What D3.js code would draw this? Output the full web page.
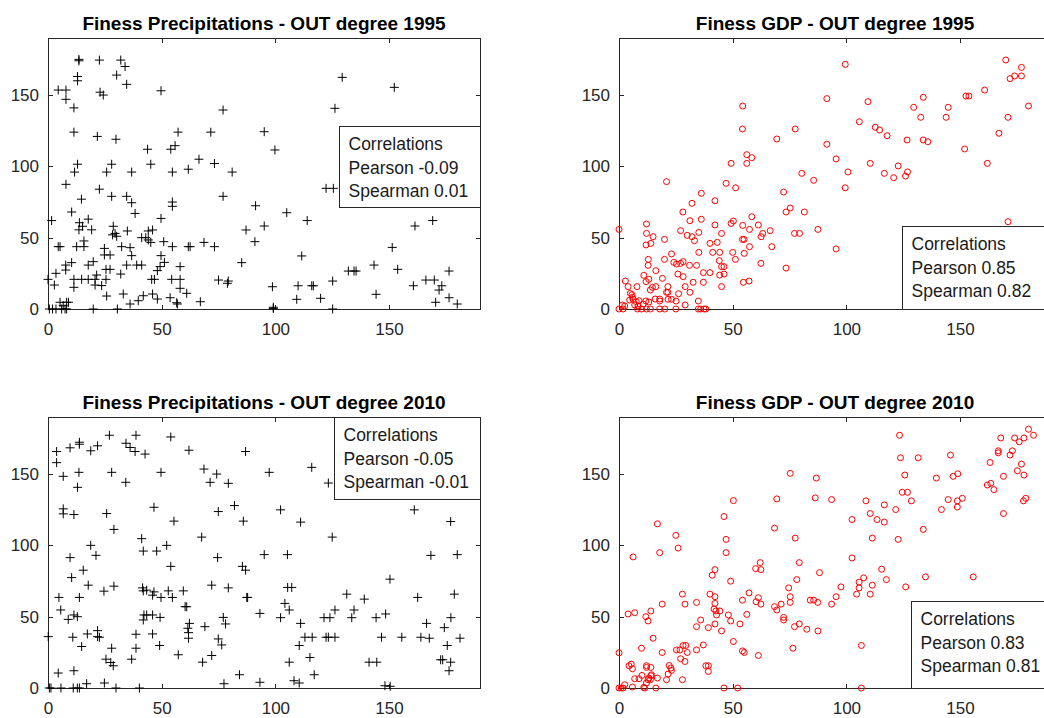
<!DOCTYPE html>
<html>
<head>
<meta charset="utf-8">
<script src="https://cdn.jsdelivr.net/npm/d3@7"></script>
<style>
  body { margin: 0; background: #fff; overflow: hidden; }
  text { font-family: "Liberation Sans", Arial, Helvetica, sans-serif; }
</style>
</head>
<body>
<div id="my_dataviz"></div>
<script>
// Tick values and axis range (both axes go 0..190)
var xTicks = [0, 50, 100, 150];
var yTicks = [0, 50, 100, 150];
var axisMax = 190;

// Titles of the four panels
var titles = [
  "Finess Precipitations - OUT degree 1995",
  "Finess GDP - OUT degree 1995",
  "Finess Precipitations - OUT degree 2010",
  "Finess GDP - OUT degree 2010"
];

// Text of the correlation boxes
var corrPrecip1995 = ["Correlations", "Pearson -0.09", "Spearman 0.01"];
var corrGdp1995 = ["Correlations", "Pearson 0.85", "Spearman 0.82"];
var corrPrecip2010 = ["Correlations", "Pearson -0.05", "Spearman -0.01"];
var corrGdp2010 = ["Correlations", "Pearson 0.83", "Spearman 0.81"];

// Points [x, y]
var precip1995 = [[13.6,175],[13.6,174],[22.6,174.5],[32,174.5],[33.9,170],[30.2,164],[13,163],[13,160],[34.6,157.5],[4.5,153.5],[7.9,153.5],[7.9,147],[22.9,152],[24.3,150],[49.7,153],[11.4,141],[77,139.5],[11.4,124],[21.7,121],[29.9,119],[57.2,124],[71.6,124],[43.8,112],[54,112],[55.9,114.5],[13,101.5],[11.7,96],[28,101.5],[25.8,96],[36.8,96],[45.2,101.5],[54.7,96],[61.7,98],[66.4,105],[73.2,102],[81,96],[7.9,87.4],[22.6,84],[28,79],[34.6,79],[36.8,74.5],[54.7,75],[54.7,72],[77,79],[14.7,77],[91.3,72.4],[38.3,67],[10.4,68],[1.6,62],[13.8,60.5],[17.7,63],[15.2,58],[13.6,55.5],[19.2,55.5],[28.7,58],[29.5,53],[28.4,52],[30.2,51],[34.9,54.7],[44.1,54.7],[46,55.4],[49.7,63.5],[87.1,55.4],[5.3,43.7],[4.5,43.7],[12.6,43.7],[15.8,43.7],[15.8,47.7],[41.2,50],[43,50],[44.1,48.4],[45.2,46.7],[50.9,47.2],[54.7,43.7],[61.7,43.7],[62.5,43.7],[68.6,46.7],[73.2,43.7],[91,47.2],[24.8,42.5],[24.8,37.9],[27.3,37.9],[32.4,43.7],[36.1,43],[36.8,37.4],[49.7,37.4],[7.8,30.8],[10.4,32.5],[7.8,27.3],[17.7,30.8],[19.9,33.2],[25.5,27.8],[27.3,27.8],[34.6,30.8],[39,30.8],[41.2,30.8],[49.3,29.7],[51.2,32.7],[58.1,29.7],[85.2,32.5],[48.1,26.9],[32,24.5],[0,20.8],[2.8,16.8],[3.5,25],[11.4,20.8],[11.4,15.2],[14.8,20.8],[17.7,20.8],[20.7,20.8],[21.4,23.8],[20.7,16.8],[23.6,16.4],[25.5,20.8],[45.6,20.8],[46.8,20.8],[54.4,20.8],[58.1,20.8],[75,20.3],[79.3,19.6],[78.9,18],[58.1,14.5],[61,11],[25.8,9.1],[33.1,10.5],[41.9,9.3],[46,10.5],[48.1,7],[39.7,5.8],[36.1,3.5],[53.7,7.9],[56.6,4.4],[56.9,3.5],[67,5.1],[5.3,4.7],[8.2,4.7],[9,4.7],[6.7,2.3],[0.6,0],[2,0],[3.5,0],[6,0],[7.5,0],[8.2,0],[19.9,0],[30.5,0],
  [129.4,162.4],[152.3,155.4],[126.2,140.7],[95.1,124.3],[99.8,111.5],[122.3,84.6],[125.5,84.6],[105,67.5],[114,62],[95.1,58.2],[111.6,37.2],[98.7,15.6],[110,16.3],[116,16.3],[116.7,16.3],[125.2,19.6],[109.4,6.8],[119.9,7.5],[99.1,1.2],[99.1,0.3],[125.2,0],[132.1,26.6],[134.6,26.6],[135.5,26.6],[143.4,30.8],[153.8,27.8],[144.3,10.3],[151.4,43.2],[161.4,58.2],[169.2,62],[160.7,16.3],[166.2,20.3],[169.9,20.3],[173.2,16.3],[172,13.3],[176.4,26.6],[170.5,4.7],[176.4,7.9],[180,3.5]];

var gdp1995 = [[0,55.8],[54.4,142.3],[54.3,126.2],[56.2,108.2],[56.2,102.1],[58.4,106.1],[49.3,102.1],[69.4,119.2],[77.5,126.2],[20.9,89.3],[47.1,88.1],[51.3,85],[85.6,90.2],[80.4,95.1],[36.2,81.1],[32.1,74.1],[42.2,75.9],[72.4,82],[75.3,70.8],[73.5,68],[81.5,68],[28.1,68],[31.2,61.9],[36.2,62.9],[49.3,60],[50.3,61.7],[54.4,58.6],[42.2,58.9],[58.4,64.7],[61.3,58.9],[57.4,55.8],[63.2,53],[62.5,50.7],[66.5,54.9],[87.5,55.8],[12.1,59.6],[12.1,53],[15,50.7],[20,48.8],[11.9,44.9],[14,46],[27.1,54.9],[30,51.6],[32.1,50.7],[33.2,47.9],[35.1,53.7],[40,46],[43.2,46.7],[45.1,53],[54.3,48.8],[55,48.8],[57.4,43.7],[55.1,39],[50,39.7],[44.3,39.7],[41.2,39.7],[35.1,39.7],[51.2,34.8],[44.1,33.9],[45.1,29.7],[46.2,29.7],[46.2,24.5],[44.3,23.8],[45.1,15.7],[54.7,18.7],[57.2,19.6],[62.4,32],[67.2,43.7],[73.5,28.7],[77.2,53],[79.4,53],[23.1,38.6],[20,34.8],[24.1,32.7],[25.3,31.5],[27.1,32],[28.2,33.2],[31,30.6],[34.1,30.6],[12.9,34.8],[12.8,30.6],[28.2,22.7],[25.9,24.5],[32.6,18.7],[37.1,25.5],[40,25.5],[37.1,18.7],[29.1,15.7],[31.2,11.7],[21.5,15.7],[21.5,11.7],[20.9,11.7],[26.2,10.7],[23.1,6.8],[25.1,5.6],[29.1,2.8],[16.2,26.9],[19.1,21.5],[10.9,23.6],[13.1,20.8],[11.9,19.2],[2.8,19.6],[4,15.7],[7.9,15.7],[14.7,15.2],[16.2,15.7],[13.8,13.3],[5,11],[5.7,10],[5.9,8.2],[6.2,6.8],[4.7,6.3],[7.6,5.1],[8.8,5.8],[11.8,5.6],[13.1,4.9],[10.6,3.5],[8.4,2.1],[6.9,2.8],[1.5,2.8],[2.5,2.1],[15.9,7],[17.9,7],[17.9,5.6],[21.6,6.8],[0,0],[1.8,0],[8.1,0],[9.9,0],[12.1,0],[13.8,0],[17.9,0],[20.1,0],[25,0],[34.9,0],[35.9,0],[37.4,0],[38.2,0],[34.9,5.6],
  [99.5,171.5],[170.1,174.6],[177,169.4],[174,163.4],[172,161.5],[177,163.4],[160.8,153.5],[152.6,149.3],[153.9,149.3],[91.4,147.5],[109.5,145.4],[133.8,148.4],[129.6,141.4],[144.8,141.4],[180.1,142.3],[132.7,134.4],[143.9,134.4],[171.1,134.4],[105.7,131.3],[112.7,127.4],[114.6,125.5],[117.9,121.5],[126.7,118.5],[133.8,118.5],[135.8,117.3],[91.4,115.5],[167.1,123.2],[152,112.2],[95.5,105.2],[110.5,102.1],[162,102.1],[100.7,96.1],[116.7,95.1],[120.8,92.1],[122.8,100.3],[126,93.2],[126.9,96.1],[99.5,85],[126,54.9],[171.1,61.2],[95.5,42.1]];

var precip2010 = [[27,177.2],[38.7,177.2],[54,176],[13.8,172.3],[13.8,170.9],[9.7,168.4],[3.8,165.8],[3.8,158],[18.8,166.3],[21.8,169.8],[34.3,171.6],[36.1,168.6],[38.3,165.8],[42.7,164],[62,166.7],[86.9,165.8],[6.7,148.4],[13.6,151.2],[13,140.7],[28,151.2],[34.2,144.2],[49.7,151.2],[68.6,153.5],[74.2,150],[71.3,144.2],[79.3,143.5],[6.7,125.6],[6.7,122.1],[11.4,121.6],[25.8,122.3],[29,111.2],[46.6,126.7],[82,127.9],[74.9,123.7],[85.9,117],[55.4,117],[67.6,105.8],[41.2,104.7],[41.9,96],[47.8,96],[52.2,100],[18.8,100],[21.1,93],[9.7,91.4],[74.6,91.4],[54,85.3],[85.5,85.3],[86.9,82.6],[15.5,82.6],[10.4,77.4],[17.7,72.1],[24.6,67.9],[29,71.4],[41.6,70.2],[41.9,68.1],[43.4,68.6],[46,65.1],[46.6,67.4],[49.7,63.5],[52.9,68.1],[54.7,63.5],[59.5,68.1],[60.3,57],[61,57],[72,72.1],[79.3,70.2],[87.4,63.5],[87.8,63.5],[4.8,63.5],[13.8,63.5],[5.6,54.7],[8.9,48.1],[11.4,51.2],[12.9,50],[10.9,35.6],[17.3,37.9],[21.8,40.2],[21.8,36],[22.6,35.6],[14.8,29.1],[28,27.9],[25.5,20.2],[27.6,17.9],[28.7,15.6],[36.8,20.2],[38.7,37.7],[38.7,27.9],[42.2,51.2],[43.4,51.2],[41.9,47.7],[46,51.2],[49.3,49.5],[46,37.9],[49.1,29.8],[57.3,23.3],[61.5,41.9],[61.8,38.8],[61.8,34.9],[62.2,45.3],[69,43],[77.1,49.5],[78.1,44.9],[74.9,34.4],[76.4,30.2],[68,18.1],[72,22.8],[4.5,10.5],[11.4,12.1],[0.1,36],[17,3],[24.8,3.5],[77.4,3],[84.2,9.3],[0.6,0],[1.3,0],[5.7,0],[11.1,0],[12.9,0],[13.8,0],[29.9,0],[40.2,0],
  [97.3,151.2],[116,154.7],[123.3,143.7],[102.3,124.9],[111.1,116.3],[125,105.8],[95.1,93.5],[105.3,93.5],[105.4,70.5],[107.2,70.5],[104.2,59.3],[106.1,54.7],[93.2,52.3],[102.3,49.3],[111.1,45.3],[121.4,49.3],[124,49.3],[126.2,54.7],[131.4,65.8],[139.1,62.3],[133.6,49.3],[134.6,54.7],[144.3,49.3],[148.5,51.9],[150.4,76.3],[162.6,63.5],[168.4,93],[180,93.5],[161.1,124.9],[177.1,116.7],[178.7,65.8],[177.2,49.3],[166.5,45.3],[174.3,42.3],[113,35.6],[116.2,35.6],[122.3,35.6],[123.3,35.6],[126.2,35.6],[110.5,29.8],[146.7,35.6],[155.6,35.6],[164,35.6],[167.7,34.9],[181.2,34.9],[175.6,29.8],[106.1,18.1],[115.2,21.4],[117.1,9.3],[141.2,18.1],[144.6,18.1],[172.7,19.8],[173.6,19.8],[177.1,18.1],[176.4,12.1],[93.2,4],[108.2,5.1],[110.5,3.5],[148.2,1.6],[150.5,1.2]];

var gdp2010 = [[0,24.7],[0,0],[1,0],[1.8,0],[2.5,2.3],[5.9,0.7],[4.4,15.6],[5.4,16.7],[5.9,13.5],[6.9,6.5],[8.8,6.5],[10.1,8.8],[10.9,0.5],[11.3,0],[12.1,3.5],[12.8,5.8],[12.1,15.6],[12.1,14.4],[13.1,7],[13.8,5.8],[14,14.4],[14,8.6],[14.3,9.3],[15,34.9],[9.9,27.9],[16.2,0],[16.9,7],[16.9,115.1],[17.9,94.9],[6.2,91.9],[4,51.9],[6.9,52.8],[11.8,50],[12.8,47],[14,54],[19,58.8],[19,24.9],[20.9,5.8],[22.1,15.8],[22.8,14],[23.1,12.3],[21.6,9.8],[25,107],[26,98.1],[27.9,65.8],[29,58.8],[25.3,26.7],[26.8,26.7],[28.2,29.8],[29.4,29.8],[27.1,20.5],[29,18.6],[30,24.9],[27.9,5.8],[34.1,60],[34.1,43],[34.1,26.7],[35.9,47.7],[37.1,30.2],[39.3,42.3],[38.2,15.6],[39.3,15.6],[39.3,11.6],[40,65.8],[41,79.1],[42.2,83],[42.2,64],[42.2,59.3],[41.8,55.3],[42.6,54],[42.2,44.9],[42.9,51.2],[44.4,54],[45.1,40],[46.2,120.2],[47.1,104.2],[47.1,94.9],[46.2,0],[48.1,51.2],[49.1,74.9],[49.1,47],[50.3,131.4],[50.3,32.6],[52.2,0],[53.2,44.9],[54.3,61.6],[54.3,26],[55.1,24.9],[56.2,51.6],[57.2,66.7],[60.1,83.7],[60.3,60.5],[61.3,63.3],[61.3,22.8],[62.1,87.9],[62.4,83],[62.4,58.8],[68.4,112.1],[69.4,132.6],[68.4,57],[69.4,54.7],[71.3,58.8],[72.4,49.5],[72.4,47.7],[74.6,70.2],[75.3,64],[75.3,60],[75.3,150.5],[76.5,27.9],[77.2,43],[77.5,105.1],[78.2,76],[79.3,87.9],[79.3,44.9],[82.6,41.2],[84.1,61.6],[85.6,61.6],[86.8,147.2],[86.3,133.3],[87.5,40],[87.4,60],[88.2,80.9],
  [123.4,177.2],[123.8,161.4],[131.6,161.4],[145.8,163.3],[125.7,149.3],[124.6,137.2],[126.9,137.2],[128.6,131.2],[93.5,132.1],[108.6,131.2],[116.7,128.4],[121.7,125.1],[110.5,122.3],[113.5,118.1],[116.7,116.3],[102.5,118.1],[139.6,147.2],[147,148.4],[149,150.2],[144.8,132.1],[148.8,131.2],[151,133],[148.8,126.9],[141.8,125.1],[133.8,111.2],[111.4,105.1],[122.8,104.2],[102.5,91.2],[115.5,83.3],[107.6,77.2],[105.6,74.2],[105.6,70.2],[104.5,65.8],[111.4,72.1],[117.6,76],[110.5,65.8],[134.8,77.9],[126.1,70.9],[155.8,77.9],[97.6,70.9],[95.5,64],[93.5,58.8],[106.6,29.8],[106.6,0],[167.9,175.3],[174,175.3],[178.1,175.3],[176,172.6],[180.1,181.4],[182.3,177.2],[166.8,166.3],[166.8,164.9],[173,166.3],[172,163.3],[163.2,158.1],[177,157],[169.1,148.4],[175.2,152.3],[178.1,149.3],[162,142.3],[163.5,143.5],[164.9,139.1],[178.9,133],[177.9,131.2],[169.1,122.3]];

// Layout of the figure (right column runs past the window edge, as in the picture)
var width = 432, height = 271;
var panels = [
  {title: titles[0], data: precip1995, marker: "plus",   left: 48,  top: 38,  corr: corrPrecip1995, box: {dx: 291, dy: 88,  h: 81}},
  {title: titles[1], data: gdp1995,    marker: "circle", left: 619, top: 38,  corr: corrGdp1995,    box: {dx: 283, dy: 188, h: 83}},
  {title: titles[2], data: precip2010, marker: "plus",   left: 48,  top: 417, corr: corrPrecip2010, box: {dx: 286, dy: 0,   h: 82}},
  {title: titles[3], data: gdp2010,    marker: "circle", left: 619, top: 417, corr: corrGdp2010,    box: {dx: 292, dy: 184, h: 87}}
];

var axisColor = "#262626";

var svg = d3.select("#my_dataviz")
  .append("svg")
    .attr("width", 1044)
    .attr("height", 718);

var x = d3.scaleLinear().domain([0, axisMax]).range([0, width]);
var y = d3.scaleLinear().domain([0, axisMax]).range([height, 0]);

function styleAxis(g) {
  g.select(".domain").remove();
  g.selectAll(".tick line")
    .attr("stroke", axisColor)
    .attr("shape-rendering", "crispEdges");
  g.selectAll(".tick text")
    .attr("fill", axisColor)
    .style("font-size", "17px");
}

panels.forEach(function(p) {
  var g = svg.append("g")
    .attr("transform", "translate(" + p.left + "," + p.top + ")");

  // white axes background + box
  g.append("rect")
    .attr("width", width)
    .attr("height", height)
    .attr("fill", "#fff");

  // ticks point inward on all four sides
  g.append("g")
    .attr("transform", "translate(0," + height + ")")
    .call(d3.axisBottom(x).tickValues(xTicks).tickSizeInner(-4.5).tickSizeOuter(0).tickPadding(14))
    .call(styleAxis);
  g.append("g")
    .call(d3.axisTop(x).tickValues(xTicks).tickSizeInner(-4.5).tickSizeOuter(0).tickFormat(""))
    .call(styleAxis);
  g.append("g")
    .call(d3.axisLeft(y).tickValues(yTicks).tickSizeInner(-4.5).tickSizeOuter(0).tickPadding(9))
    .call(styleAxis);
  g.append("g")
    .attr("transform", "translate(" + width + ",0)")
    .call(d3.axisRight(y).tickValues(yTicks).tickSizeInner(-4.5).tickSizeOuter(0).tickFormat(""))
    .call(styleAxis);

  g.append("rect")
    .attr("x", 0.5)
    .attr("y", 0.5)
    .attr("width", width)
    .attr("height", height - 0.5)
    .attr("fill", "none")
    .attr("stroke", axisColor)
    .attr("stroke-width", 1)
    .attr("shape-rendering", "crispEdges");

  // title
  g.append("text")
    .attr("x", width / 2)
    .attr("y", -8)
    .attr("text-anchor", "middle")
    .style("font-size", "19px")
    .style("font-weight", "bold")
    .attr("fill", "#000")
    .text(p.title);

  // markers
  if (p.marker === "plus") {
    g.selectAll(".pt")
      .data(p.data)
      .enter()
      .append("path")
        .attr("class", "pt")
        .attr("transform", function(d) { return "translate(" + x(d[0]) + "," + y(d[1]) + ")"; })
        .attr("d", "M-4.5,0H4.5M0,-4.5V4.5")
        .attr("fill", "none")
        .attr("stroke", "#000")
        .attr("stroke-width", 1);
  } else {
    g.selectAll(".pt")
      .data(p.data)
      .enter()
      .append("circle")
        .attr("class", "pt")
        .attr("cx", function(d) { return x(d[0]); })
        .attr("cy", function(d) { return y(d[1]); })
        .attr("r", 3)
        .attr("fill", "none")
        .attr("stroke", "#ff0000")
        .attr("stroke-width", 1);
  }

  // correlation text box
  var box = g.append("g")
    .attr("transform", "translate(" + p.box.dx + "," + p.box.dy + ")");
  var frame = box.append("rect")
    .attr("fill", "#fff")
    .attr("stroke", axisColor)
    .attr("stroke-width", 1)
    .attr("shape-rendering", "crispEdges");
  var maxW = 0;
  p.corr.forEach(function(line, i) {
    var t = box.append("text")
      .attr("x", 9.5)
      .attr("y", 24.3 + i * 23.4)
      .style("font-size", "17.5px")
      .attr("fill", "#1a1a1a")
      .text(line);
    maxW = Math.max(maxW, t.node().getComputedTextLength());
  });
  frame
    .attr("x", 0.5)
    .attr("y", 0.5)
    .attr("width", Math.min(maxW + 22, width - p.box.dx))
    .attr("height", p.box.h);
});
</script>
</body>
</html>
